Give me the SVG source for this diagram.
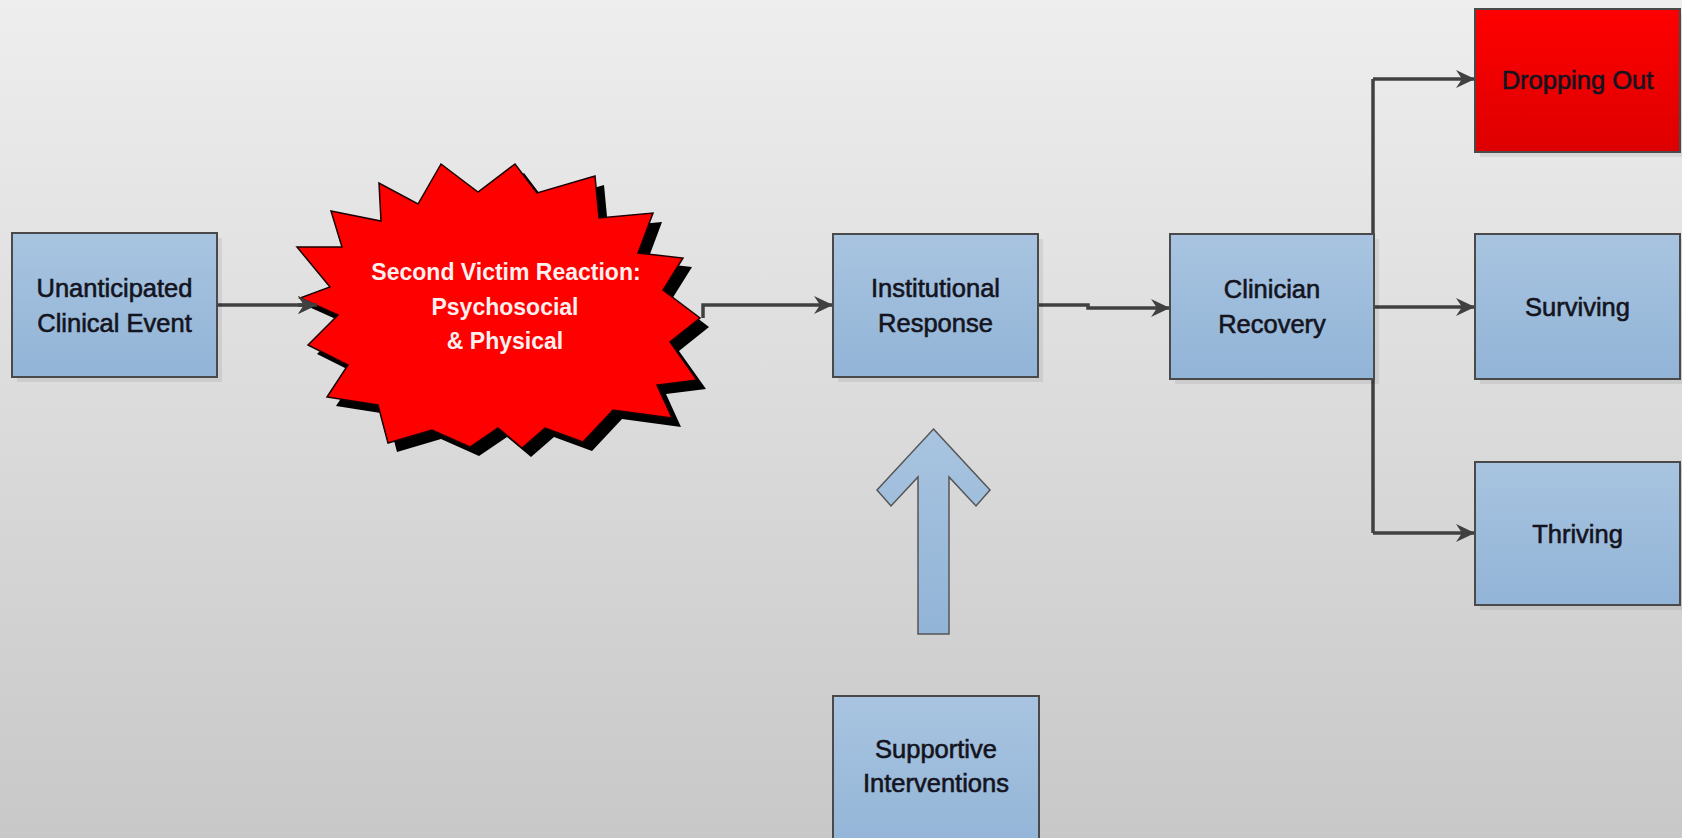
<svg xmlns="http://www.w3.org/2000/svg" width="1682" height="838" viewBox="0 0 1682 838">
<defs>
<linearGradient id="bg" x1="0" y1="0" x2="0" y2="1">
<stop offset="0" stop-color="#eeeeee"/>
<stop offset="1" stop-color="#c8c8c8"/>
</linearGradient>
<linearGradient id="blue" x1="0" y1="0" x2="0" y2="1">
<stop offset="0" stop-color="#a8c4e0"/>
<stop offset="1" stop-color="#92b4d7"/>
</linearGradient>
<linearGradient id="red" x1="0" y1="0" x2="0" y2="1">
<stop offset="0" stop-color="#ff0000"/>
<stop offset="1" stop-color="#dd0000"/>
</linearGradient>
<marker id="ah" viewBox="0 0 20 20" refX="19" refY="10" markerWidth="20" markerHeight="20" markerUnits="userSpaceOnUse" orient="auto">
<path d="M0,1 L19,10 L0,19 L6,10 z" fill="#404040"/>
</marker>
</defs>
<style>
.box{fill:url(#blue);stroke:#4a4a4a;stroke-width:2}
.redbox{fill:url(#red);stroke:#4a4a4a;stroke-width:2}
.shadow{fill:#000;opacity:0.07}
.lbl{font-family:"Liberation Sans",Arial,sans-serif;font-size:25.5px;fill:#141420;stroke:#141420;stroke-width:0.6;text-anchor:middle}
.burst-txt{font-family:"Liberation Sans",Arial,sans-serif;font-size:23px;font-weight:bold;fill:#fff0f0;text-anchor:middle}
.conn{fill:none;stroke:#404040;stroke-width:3.5}
</style>
<rect x="0" y="0" width="1682" height="838" fill="url(#bg)"/>

<g id="connectors">
<path class="conn" d="M217,305 H317" marker-end="url(#ah)"/>
</g>

<g id="n1">
<rect class="shadow" x="17" y="238" width="205" height="144"/>
<rect class="box" x="12" y="233" width="205" height="144"/>
<text class="lbl" x="114.5" y="297">Unanticipated</text>
<text class="lbl" x="114.5" y="332">Clinical Event</text>
</g>

<g id="n2">
<polygon fill="#000" transform="translate(9,9)" points="297,247 342,247 331,211 381,221 379,183 418,204 441,164 478,192 515,164 537,193 595,176 599,218 653,213 638,253 683,258 663,290 700,318 670,342 697,380 657,385 672,418 613,410 583,442 545,428 522,448 498,428 470,447 432,430 388,443 378,405 327,397 348,365 308,345 338,315 300,298 330,287"/>
<polygon fill="#ff0000" stroke="#1a0000" stroke-width="1.5" points="297,247 342,247 331,211 381,221 379,183 418,204 441,164 478,192 515,164 537,193 595,176 599,218 653,213 638,253 683,258 663,290 700,318 670,342 697,380 657,385 672,418 613,410 583,442 545,428 522,448 498,428 470,447 432,430 388,443 378,405 327,397 348,365 308,345 338,315 300,298 330,287"/>
<text class="burst-txt" x="506" y="280">Second Victim Reaction:</text>
<text class="burst-txt" x="505" y="315">Psychosocial</text>
<text class="burst-txt" x="505" y="349">&amp; Physical</text>
</g>

<g id="connectors2">
<path class="conn" d="M298,305 H317" marker-end="url(#ah)"/>
<path class="conn" d="M703,318 V305 H833" marker-end="url(#ah)"/>
<path class="conn" d="M1038,305 H1088 V308 H1170" marker-end="url(#ah)"/>
<path class="conn" d="M1373,79 V533"/>
<path class="conn" d="M1373,79 H1475" marker-end="url(#ah)"/>
<path class="conn" d="M1373,307 H1475" marker-end="url(#ah)"/>
<path class="conn" d="M1373,533 H1475" marker-end="url(#ah)"/>
</g>

<g id="n3">
<rect class="shadow" x="838" y="239" width="205" height="143"/>
<rect class="box" x="833" y="234" width="205" height="143"/>
<text class="lbl" x="935.5" y="297">Institutional</text>
<text class="lbl" x="935.5" y="332">Response</text>
</g>

<g id="n4">
<rect class="shadow" x="1175" y="239" width="204" height="145"/>
<rect class="box" x="1170" y="234" width="204" height="145"/>
<text class="lbl" x="1272" y="298">Clinician</text>
<text class="lbl" x="1272" y="333">Recovery</text>
</g>

<g id="n5">
<rect class="shadow" x="1480" y="14" width="205" height="143"/>
<rect class="redbox" x="1475" y="9" width="205" height="143"/>
<text class="lbl" x="1577.5" y="89">Dropping Out</text>
</g>

<g id="n6">
<rect class="shadow" x="1480" y="239" width="205" height="145"/>
<rect class="box" x="1475" y="234" width="205" height="145"/>
<text class="lbl" x="1577.5" y="316">Surviving</text>
</g>

<g id="n7">
<rect class="shadow" x="1480" y="467" width="205" height="143"/>
<rect class="box" x="1475" y="462" width="205" height="143"/>
<text class="lbl" x="1577.5" y="543">Thriving</text>
</g>

<g id="n9">
<polygon fill="url(#blue)" stroke="#555555" stroke-width="1.5" points="933.5,429 990,490 976,506 949,477 949,634 918,634 918,477 891,506 877,490"/>
</g>

<g id="n8">
<rect class="box" x="833" y="696" width="206" height="160"/>
<text class="lbl" x="936" y="758">Supportive</text>
<text class="lbl" x="936" y="792">Interventions</text>
</g>
</svg>
